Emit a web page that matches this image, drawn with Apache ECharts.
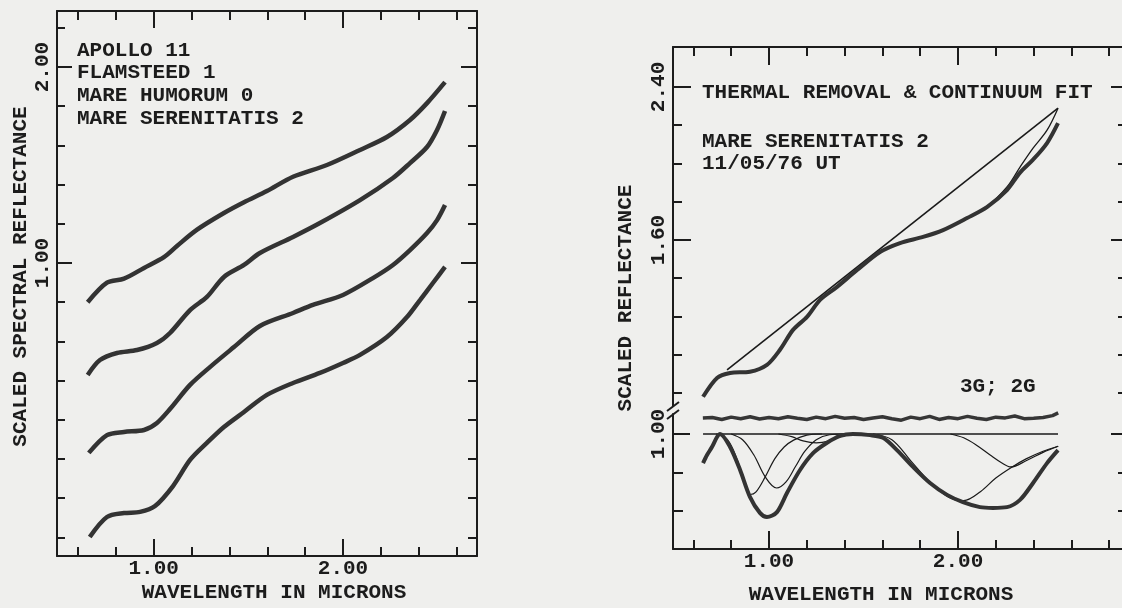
<!DOCTYPE html>
<html><head><meta charset="utf-8">
<script src="https://cdn.jsdelivr.net/npm/echarts@6/dist/echarts.min.js"></script>
<style>html,body{margin:0;padding:0;background:#efefed}#c{width:1122px;height:608px}</style>
</head><body><div id="c"></div><script>
// ---------- LEFT PANEL: four scaled spectra ----------
const apollo11Wave = [0.651,0.753,0.843,0.949,1.054,1.123,1.229,1.371,1.477,1.598,1.736,1.915,2.090,2.232,2.354,2.444,2.539];
const apollo11Refl = [0.800,0.900,0.920,0.975,1.030,1.087,1.170,1.255,1.310,1.367,1.440,1.500,1.577,1.643,1.730,1.816,1.923];
const flamsteedWave = [0.651,0.716,0.806,0.912,1.017,1.086,1.192,1.281,1.371,1.477,1.561,1.736,1.878,2.090,2.264,2.354,2.444,2.497,2.539];
const flamsteedRefl = [0.429,0.505,0.541,0.556,0.592,0.643,0.760,0.827,0.929,0.990,1.051,1.133,1.204,1.321,1.434,1.510,1.592,1.679,1.776];
const humorumWave = [0.657,0.753,0.843,0.949,1.017,1.086,1.192,1.297,1.424,1.561,1.736,1.841,2.000,2.158,2.264,2.354,2.444,2.497,2.539];
const humorumRefl = [0.031,0.122,0.138,0.148,0.184,0.255,0.378,0.469,0.571,0.679,0.745,0.786,0.837,0.923,0.990,1.066,1.153,1.219,1.296];
const serenitatisWave = [0.662,0.753,0.843,0.928,1.007,1.102,1.192,1.281,1.371,1.477,1.598,1.736,1.878,2.000,2.090,2.232,2.338,2.407,2.475,2.539];
const serenitatisRefl = [-0.398,-0.296,-0.276,-0.270,-0.240,-0.138,-0.005,0.082,0.163,0.240,0.327,0.388,0.439,0.490,0.531,0.622,0.724,0.811,0.898,0.980];

// ---------- RIGHT PANEL, upper part: spectrum, continuum, fit ----------
const specWave = [0.651,0.725,0.794,0.899,0.989,1.058,1.127,1.201,1.270,1.360,1.466,1.587,1.693,1.815,1.921,2.048,2.153,2.259,2.328,2.397,2.471,2.529];
const specRefl = [0.780,0.879,0.905,0.911,0.947,1.026,1.130,1.198,1.287,1.355,1.443,1.537,1.584,1.616,1.652,1.715,1.772,1.861,1.952,2.020,2.107,2.211];
const contWave = [0.778,2.529];
const contRefl = [0.921,2.289];
const fitWave = [1.921,2.048,2.153,2.259,2.328,2.397,2.471,2.529];
const fitRefl = [1.652,1.716,1.775,1.877,1.981,2.080,2.174,2.289];

// ---------- RIGHT PANEL, lower part: continuum removed spectrum, residual, gaussians ----------
const ratioWave = [0.651,0.672,0.698,0.725,0.741,0.794,0.847,0.899,0.952,0.989,1.042,1.095,1.164,1.233,1.307,1.376,1.444,1.534,1.603,1.677,1.762,1.852,1.942,2.026,2.116,2.185,2.259,2.328,2.397,2.471,2.529];
const ratioVal  = [0.924,0.945,0.966,0.992,1.000,0.966,0.906,0.836,0.794,0.783,0.796,0.846,0.906,0.950,0.977,0.995,1.000,0.997,0.990,0.958,0.914,0.872,0.841,0.822,0.809,0.807,0.809,0.828,0.872,0.924,0.958];
const residWave = [0.65,0.70,0.75,0.80,0.85,0.90,0.95,1.00,1.05,1.10,1.15,1.20,1.25,1.30,1.35,1.40,1.45,1.50,1.55,1.60,1.65,1.70,1.75,1.80,1.85,1.90,1.95,2.00,2.05,2.10,2.15,2.20,2.25,2.30,2.35,2.40,2.45,2.50,2.53];
const residVal  = [1.042,1.043,1.038,1.044,1.040,1.045,1.039,1.043,1.040,1.045,1.041,1.038,1.044,1.040,1.046,1.041,1.043,1.038,1.042,1.045,1.040,1.036,1.044,1.040,1.046,1.038,1.043,1.040,1.046,1.041,1.038,1.044,1.042,1.047,1.040,1.041,1.043,1.048,1.055];
const unityWave = [0.651,2.529];
const unityVal  = [1.000,1.000];
const gauss1Wave = [0.72,0.78,0.83,0.87,0.90,0.93,0.98,1.03,1.08,1.13,1.20,1.28];
const gauss1Val  = [1.000,0.985,0.935,0.875,0.842,0.848,0.888,0.935,0.966,0.984,0.997,1.000];
const gauss2Wave = [0.80,0.86,0.92,0.98,1.04,1.09,1.14,1.19,1.25,1.32,1.40];
const gauss2Val  = [1.000,0.985,0.945,0.888,0.859,0.875,0.915,0.955,0.985,0.998,1.000];
const gauss3Wave = [1.05,1.12,1.18,1.25,1.32,1.38,1.45];
const gauss3Val  = [1.000,0.993,0.982,0.977,0.982,0.993,1.000];
const gauss4Wave = [1.55,1.65,1.75,1.85,1.95,2.03,2.12,2.20,2.28,2.36,2.45,2.53];
const gauss4Val  = [1.000,0.985,0.930,0.875,0.835,0.826,0.850,0.885,0.912,0.935,0.955,0.968];
const gauss5Wave = [1.96,2.03,2.10,2.17,2.23,2.28,2.36,2.45,2.53];
const gauss5Val  = [1.000,0.990,0.970,0.945,0.925,0.914,0.930,0.952,0.968];

// ---------- ticks and tick labels ----------
const leftXMajor = [1.0, 2.0];
const leftXLabels = ['1.00', '2.00'];
const leftXMinor = [0.6,0.8,1.2,1.4,1.6,1.8,2.2,2.4,2.6];
const leftYMajor = [1.0, 2.0];
const leftYLabels = ['1.00', '2.00'];
const leftYMinor = [-0.4,-0.2,0.0,0.2,0.4,0.6,0.8,1.2,1.4,1.6,1.8,2.2];
const rightXMajor = [1.0, 2.0];
const rightXLabels = ['1.00', '2.00'];
const rightXMinor = [0.6,0.8,1.2,1.4,1.6,1.8,2.2,2.4,2.6,2.8];
const upperYMajor = [1.6, 2.4];
const upperYLabels = ['1.60', '2.40'];
const upperYMinor = [0.8,1.0,1.2,1.4,1.8,2.0,2.2];
const lowerYMajor = [1.0];
const lowerYLabels = ['1.00'];
const lowerYMinor = [0.9, 0.8];

const leftNotes = ['APOLLO 11', 'FLAMSTEED 1', 'MARE HUMORUM 0', 'MARE SERENITATIS 2'];
const rightNotes = ['THERMAL REMOVAL & CONTINUUM FIT', 'MARE SERENITATIS 2', '11/05/76 UT'];
const fitNote = '3G; 2G';

// ---------- styling helpers ----------
const INK = '#1c1c1c';
const FONT = 'Liberation Mono';
const FS = 21;
const FW = 'bold';
const zip = (xs, ys) => xs.map((x, i) => [x, ys[i]]);
const lab = (vals, labels) => v => { let k = 0; vals.forEach((t, i) => { if (Math.abs(t - v) < Math.abs(vals[k] - v)) k = i; }); return labels[k]; };

function axis(grid, pos, min, max, ticks, len, line, extra) {
  return Object.assign({
    type: 'value', gridIndex: grid, position: pos, min: min, max: max,
    axisLine: { show: line, onZero: false, lineStyle: { color: INK, width: 2 } },
    axisTick: { show: ticks.length > 0, inside: true, length: len, customValues: ticks, lineStyle: { color: INK, width: 2 } },
    axisLabel: { show: false },
    splitLine: { show: false },
    nameMoveOverlap: false
  }, extra || {});
}
const labelCfg = (vals, labels, margin, rotate) => ({
  show: true, customValues: vals, formatter: lab(vals, labels), margin: margin, rotate: rotate || 0,
  color: INK, fontFamily: FONT, fontSize: FS, fontWeight: FW
});
const nameStyle = (pad) => ({ color: INK, fontFamily: FONT, fontSize: FS, fontWeight: FW, padding: pad || 0 });

// ranges (left panel, right panel)
const LX = [0.489, 2.708], LY = [-0.495, 2.286];
const RX = [0.492, 2.894], UY = [0.732, 2.609], DY = [0.6997, 1.0522];

const xAxes = [
  axis(0, 'bottom', LX[0], LX[1], leftXMajor, 17, true, { axisLabel: labelCfg(leftXMajor, leftXLabels, 2), name: 'WAVELENGTH IN MICRONS', nameLocation: 'middle', nameGap: 26, nameTextStyle: nameStyle([0,0,0,14]) }),
  axis(0, 'bottom', LX[0], LX[1], leftXMinor, 9, false),
  axis(0, 'top', LX[0], LX[1], leftXMajor, 17, true),
  axis(0, 'top', LX[0], LX[1], leftXMinor, 9, false),
  axis(1, 'top', RX[0], RX[1], rightXMajor, 18, true),
  axis(1, 'top', RX[0], RX[1], rightXMinor, 9, false),
  axis(2, 'bottom', RX[0], RX[1], rightXMajor, 18, true, { axisLabel: labelCfg(rightXMajor, rightXLabels, 2), name: 'WAVELENGTH IN MICRONS', nameLocation: 'middle', nameGap: 35, nameTextStyle: nameStyle([0,38,0,0]) }),
  axis(2, 'bottom', RX[0], RX[1], rightXMinor, 9, false),
  axis(3, 'bottom', RX[0], RX[1], [], 0, false)
];
const yAxes = [
  axis(0, 'left', LY[0], LY[1], leftYMajor, 15, true, { axisLabel: labelCfg(leftYMajor, leftYLabels, 4, 90), name: 'SCALED SPECTRAL REFLECTANCE', nameLocation: 'middle', nameGap: 26, nameTextStyle: nameStyle([0,0,0,14]) }),
  axis(0, 'left', LY[0], LY[1], leftYMinor, 8, false),
  axis(0, 'right', LY[0], LY[1], leftYMajor, 16, true),
  axis(0, 'right', LY[0], LY[1], leftYMinor, 9, false),
  axis(1, 'left', UY[0], UY[1], upperYMajor, 18, true, { axisLabel: labelCfg(upperYMajor, upperYLabels, 4, 90) }),
  axis(1, 'left', UY[0], UY[1], upperYMinor, 9, false),
  axis(1, 'right', UY[0], UY[1], upperYMajor, 16, true),
  axis(1, 'right', UY[0], UY[1], upperYMinor, 9, false),
  axis(2, 'left', DY[0], DY[1], lowerYMajor, 17, true, { axisLabel: labelCfg(lowerYMajor, lowerYLabels, 4, 90) }),
  axis(2, 'left', DY[0], DY[1], lowerYMinor, 10, false),
  axis(2, 'right', DY[0], DY[1], lowerYMajor, 16, true),
  axis(2, 'right', DY[0], DY[1], lowerYMinor, 9, false),
  axis(3, 'left', 0, 1, [], 0, false, { name: 'SCALED REFLECTANCE', nameLocation: 'middle', nameGap: 37, nameTextStyle: nameStyle() })
];

const thick = (name, xi, yi, xs, ys, w) => ({
  name: name, type: 'line', xAxisIndex: xi, yAxisIndex: yi, data: zip(xs, ys),
  smooth: 0.3, showSymbol: false, clip: false, silent: true,
  lineStyle: { color: '#333333', width: w }
});
const thin = (name, xi, yi, xs, ys, w, smooth) => ({
  name: name, type: 'line', xAxisIndex: xi, yAxisIndex: yi, data: zip(xs, ys),
  smooth: smooth ? 0.35 : false, showSymbol: false, clip: false, silent: true,
  lineStyle: { color: '#1a1a1a', width: w }
});

const series = [
  thick('Apollo 11', 0, 0, apollo11Wave, apollo11Refl, 4.5),
  thick('Flamsteed 1', 0, 0, flamsteedWave, flamsteedRefl, 4.5),
  thick('Mare Humorum 0', 0, 0, humorumWave, humorumRefl, 4.5),
  thick('Mare Serenitatis 2', 0, 0, serenitatisWave, serenitatisRefl, 4.5),
  thin('Continuum', 4, 4, contWave, contRefl, 1.6, false),
  thin('Fit', 4, 4, fitWave, fitRefl, 1.3, true),
  thick('Spectrum', 4, 4, specWave, specRefl, 4),
  thin('Unity', 6, 8, unityWave, unityVal, 1.5, false),
  thin('Gaussian 1', 6, 8, gauss1Wave, gauss1Val, 1.2, true),
  thin('Gaussian 2', 6, 8, gauss2Wave, gauss2Val, 1.2, true),
  thin('Gaussian 3', 6, 8, gauss3Wave, gauss3Val, 1.2, true),
  thin('Gaussian 4', 6, 8, gauss4Wave, gauss4Val, 1.2, true),
  thin('Gaussian 5', 6, 8, gauss5Wave, gauss5Val, 1.2, true),
  Object.assign(thin('Residual', 6, 8, residWave, residVal, 3.5, false), { lineStyle: { color: '#363636', width: 3.5 } }),
  thick('Band ratio', 6, 8, ratioWave, ratioVal, 4)
];

const noteStyle = (t) => ({ text: t, fontFamily: FONT, fontSize: FS, fontWeight: FW, fill: INK, verticalAlign: 'middle', align: 'left' });
const leftNoteY = [51, 73, 96, 119];
const rightNoteY = [93, 142, 164];
const graphic = [];
leftNotes.forEach((t, i) => graphic.push({ type: 'text', x: 77, y: leftNoteY[i], style: noteStyle(t) }));
rightNotes.forEach((t, i) => graphic.push({ type: 'text', x: 702, y: rightNoteY[i], style: noteStyle(t) }));
graphic.push({ type: 'text', x: 960, y: 387, style: noteStyle(fitNote) });
// axis break marks
graphic.push({ type: 'line', shape: { x1: 667, y1: 411, x2: 679, y2: 402 }, style: { stroke: INK, lineWidth: 2 } });
graphic.push({ type: 'line', shape: { x1: 667, y1: 419, x2: 679, y2: 410 }, style: { stroke: INK, lineWidth: 2 } });

const chart = echarts.init(document.getElementById('c'), null, { renderer: 'canvas' });
chart.setOption({
  backgroundColor: '#efefed',
  animation: false,
  textStyle: { fontFamily: FONT },
  grid: [
    { left: 57, top: 11, width: 420, height: 545, containLabel: false, outerBoundsMode: 'none' },
    { left: 673, top: 47, width: 454, height: 359, containLabel: false, outerBoundsMode: 'none' },
    { left: 673, top: 414, width: 454, height: 135, containLabel: false, outerBoundsMode: 'none' },
    { left: 673, top: 47, width: 454, height: 502, containLabel: false, outerBoundsMode: 'none' }
  ],
  xAxis: xAxes,
  yAxis: yAxes,
  series: series,
  graphic: graphic
});
</script></body></html>
